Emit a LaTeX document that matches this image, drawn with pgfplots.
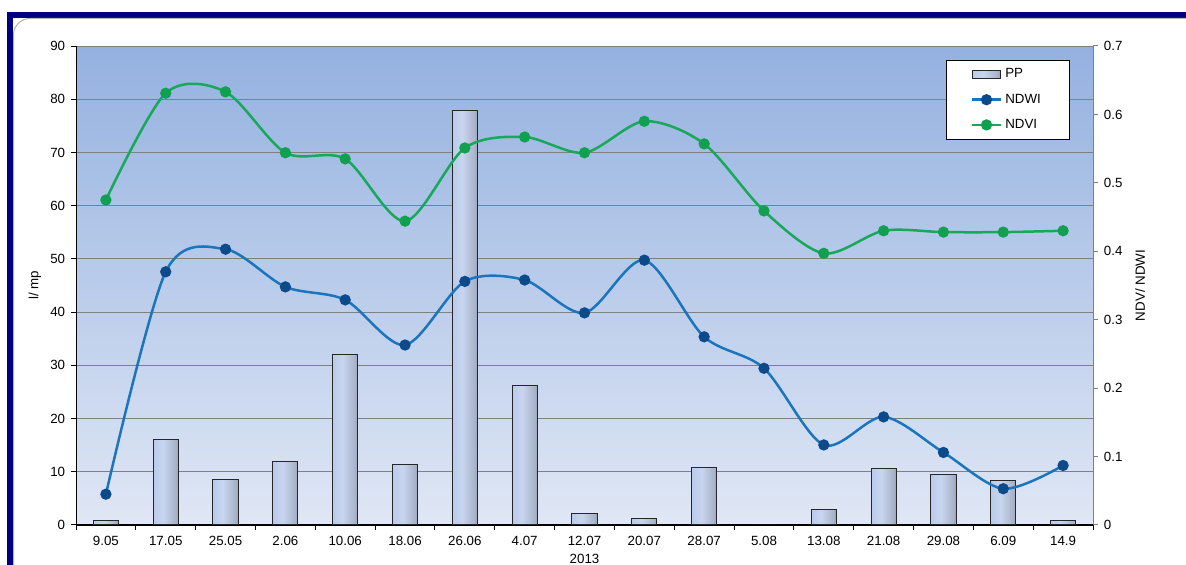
\documentclass[border=0pt]{standalone}
\usepackage{pgfplots}
\usepackage{pgfplotstable}
\pgfplotsset{compat=1.18}
\usepackage{fontspec}
\setmainfont{Liberation Sans}
\definecolor{bgtop}{RGB}{148,177,224}
\definecolor{bgbot}{RGB}{224,231,245}
\definecolor{barA}{RGB}{166,189,232}
\definecolor{barB}{RGB}{200,213,238}
\definecolor{barC}{RGB}{70,76,90}
\definecolor{ndwiline}{RGB}{27,117,188}
\definecolor{ndwimark}{RGB}{12,74,138}
\definecolor{ndviline}{RGB}{24,168,90}
\definecolor{ndvimark}{RGB}{16,160,80}
\definecolor{framecol}{RGB}{0,0,128}
\definecolor{gridcol}{RGB}{128,128,128}
\pgfdeclarehorizontalshading{barshade}{100bp}{color(0bp)=(barA); color(45bp)=(barB); color(70bp)=(barB!75!barC); color(100bp)=(barC)}
\newcommand{\fs}{\fontsize{8}{9.6}\selectfont}

\pgfplotstableread{
x pp ndwi ndvi
0 0.8 0.045 0.475
1 16.1 0.370 0.631
2 8.6 0.403 0.633
3 12.0 0.348 0.544
4 32.1 0.329 0.535
5 11.3 0.263 0.444
6 77.8 0.356 0.551
7 26.3 0.358 0.567
8 2.1 0.310 0.544
9 1.2 0.387 0.590
10 10.8 0.275 0.557
11 0 0.229 0.459
12 2.9 0.117 0.397
13 10.6 0.158 0.430
14 9.45 0.106 0.428
15 8.3 0.053 0.428
16 0.8 0.087 0.430
}\datatable

\begin{document}
\begin{tikzpicture}
\path[use as bounding box] (0,0) rectangle (711.6pt,339pt);
\begin{scope}[x=0.6pt,y=0.6pt]
\fill[white] (0,0) rectangle (1186,565);
\fill[framecol] (7,0) rectangle (12.5,552.5);
\fill[framecol] (7,547) rectangle (1186,552.5);
\draw[gray!60,line width=0.6pt] (13.5,0) -- (13.5,530) arc[start angle=180,end angle=90,radius=16.5] -- (1186,546.5);
\end{scope}

\pgfplotsset{
  every axis/.append style={
    scale only axis, width=610.2pt, height=287.4pt,
    at={(45.6pt,24pt)}, anchor=south west,
    xmin=-0.5, xmax=16.5,
    tick label style={font=\fs},
    label style={font=\fs},
    /pgf/number format/assume math mode=true,
    tick align=outside, major tick length=3pt,
  }
}

\begin{axis}[
  axis background/.style={shade, top color=bgtop, bottom color=bgbot},
  ymin=0, ymax=90,
  axis x line*=bottom, axis y line*=left,
  x axis line style={black, line width=0.8pt},
  y axis line style={black, line width=0.6pt},
  ytick={0,10,...,90},
  ymajorgrids, grid style={gridcol, line width=0.6pt},
  xtick={-0.5,0.5,...,16.5},
  x tick label as interval,
  xticklabels={9.05,17.05,25.05,2.06,10.06,18.06,26.06,4.07,12.07,20.07,28.07,5.08,13.08,21.08,29.08,6.09,14.9},
  xtick style={black, line width=0.6pt},
  ytick style={black, line width=0.6pt},
  xlabel={2013},
  xlabel style={at={(axis description cs:0.5,0)}, anchor=center, yshift=-20.5pt},
  ylabel={l/ mp},
  ylabel style={at={(axis description cs:-0.0403,0.5)}, anchor=center},
]
\pgfplotsinvokeforeach{0,...,16}{
\addplot[ybar, bar width=0.42, bar shift=0pt, draw=black!85, line width=0.6pt, shading=barshade, shade,
  x filter/.expression={abs(x-#1)<0.2 ? x : nan}] table[x=x,y=pp] {\datatable};
}
\end{axis}

\begin{axis}[
  ymin=0, ymax=0.7,
  axis y line*=right, axis x line=none,
  y axis line style={gridcol, line width=0.6pt},
  ytick={0,0.1,...,0.7},
  ytick style={gridcol, line width=0.6pt},
  yticklabel style={/pgf/number format/fixed, /pgf/number format/precision=1},
  ylabel={NDV/ NDWI},
  ylabel style={at={(axis description cs:1.0462,0.5)}, anchor=center},
  legend style={at={(0.855,0.971)}, anchor=north west, draw=black, fill=white, font=\fs,
    inner xsep=15pt, inner ysep=3pt, row sep=4.1pt, line width=0.6pt},
  legend cell align=left,
]
\addlegendimage{legend image code/.code={\draw[black!85, line width=0.6pt, shading=barshade, shade] (0pt,-2.4pt) rectangle (16.8pt,2.4pt);}}
\addlegendentry{PP}
\addplot[smooth, tension=0.5, color=ndwiline, line width=1.5pt, mark=*, mark size=2.6pt, mark options={fill=ndwimark, draw=ndwimark}] table[x=x,y=ndwi] {\datatable};
\addlegendentry{NDWI}
\addplot[smooth, tension=0.5, color=ndviline, line width=1.5pt, mark=*, mark size=2.6pt, mark options={fill=ndvimark, draw=ndvimark}] table[x=x,y=ndvi] {\datatable};
\addlegendentry{NDVI}
\end{axis}
\end{tikzpicture}
\end{document}
